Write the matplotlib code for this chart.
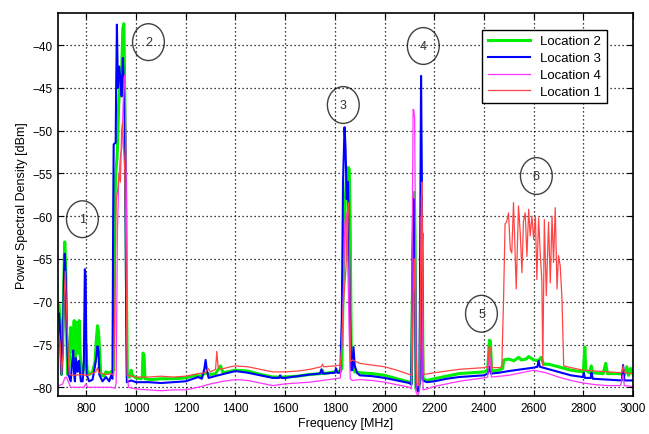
import numpy as np
import matplotlib
matplotlib.use('Agg')
import matplotlib.pyplot as plt
from matplotlib.patches import Ellipse

plt.rcParams['font.family'] = ['Liberation Sans', 'DejaVu Sans']

# Location 2 (green)
freq_loc2 = [690, 694, 700, 705, 709, 713, 717, 721, 725, 731, 737, 741, 744, 747, 751, 755, 758, 760,
             764, 768, 771, 775, 778, 785, 792, 798, 803, 811, 825, 835, 840, 845, 849, 852, 858, 870,
             879, 892, 905, 910, 914, 918, 924, 930, 936, 942, 947, 951, 954, 958, 962, 965, 975, 980,
             985, 1000, 1020, 1025, 1028, 1032, 1036, 1060, 1100, 1150, 1200, 1240, 1260, 1280, 1300,
             1320, 1340, 1350, 1400, 1450, 1500, 1550, 1600, 1650, 1700, 1745, 1750, 1755, 1800, 1820,
             1828, 1835, 1842, 1848, 1853, 1858, 1862, 1866, 1870, 1880, 1900, 1950, 2000, 2050, 2100,
             2108, 2112, 2116, 2120, 2123, 2127, 2135, 2142, 2147, 2151, 2155, 2170, 2200, 2250, 2300,
             2350, 2400, 2415, 2422, 2426, 2431, 2460, 2475, 2480, 2500, 2520, 2540, 2550, 2570, 2580,
             2600, 2620, 2630, 2640, 2660, 2700, 2750, 2800, 2806, 2810, 2825, 2832, 2838, 2880, 2890,
             2897, 2950, 2965, 2975, 2982, 2990, 3000]
psd_loc2 = [-70.4, -72.2, -78.5, -75, -68, -63.0, -66, -74, -78.5, -77.5, -73.0, -74.5, -73.8, -76, -72.2,
            -77.5, -75, -72.4, -73.8, -76, -72.2, -76, -77.5, -78.5, -77.0, -75.0, -78.0, -78.5, -78.2,
            -77.0, -74.5, -72.8, -73.5, -75, -78.5, -78.7, -78.2, -78.3, -78.1, -78.0, -60, -55, -53, -47,
            -44, -43, -38, -37.5, -44, -55, -70, -78.8, -78.8, -78.0, -78.6, -78.9, -79.0, -78.8, -76.0,
            -76.2, -79.0, -79.1, -79.0, -79.0, -78.9, -78.6, -78.7, -78.3, -78.5, -78.4, -77.5, -78.3,
            -78.0, -78.1, -78.5, -78.8, -78.8, -78.7, -78.5, -78.4, -78.0, -78.4, -78.2, -78.1, -77.8,
            -66, -58, -55, -54.3, -54.5, -62, -76, -77.0, -78.2, -78.3, -78.4, -78.6, -79.0, -79.4, -79.5,
            -70, -60, -57.2, -63, -80.2, -80.4, -79.5, -64, -62, -79.0, -79.2, -79.0, -78.7, -78.4, -78.3,
            -78.2, -78.0, -74.5, -74.6, -78.1, -78.0, -77.8, -76.8, -76.7, -76.9, -76.5, -76.8, -76.7,
            -76.4, -76.8, -76.9, -76.5, -77.3, -77.3, -77.6, -78.0, -78.2, -75.3, -78.0, -78.3, -77.5,
            -78.3, -78.4, -77.2, -78.4, -78.4, -78.6, -77.6, -78.6, -77.8, -78.5]

# Location 3 (blue)
freq_loc3 = [690, 694, 700, 706, 710, 713, 717, 720, 724, 728, 737, 743, 747, 751, 754, 758, 762, 764,
             768, 771, 775, 778, 785, 790, 794, 797, 801, 811, 825, 835, 840, 845, 849, 852, 865, 879,
             892, 900, 905, 908, 910, 918, 920, 923, 927, 932, 937, 942, 947, 951, 956, 960, 963, 980,
             1000, 1050, 1100, 1150, 1200, 1230, 1250, 1265, 1275, 1280, 1285, 1292, 1330, 1400, 1450,
             1500, 1550, 1575, 1580, 1585, 1600, 1650, 1700, 1740, 1746, 1752, 1800, 1805, 1810, 1822,
             1828, 1833, 1839, 1843, 1848, 1853, 1858, 1865, 1870, 1875, 1880, 1890, 1900, 1950, 2000,
             2050, 2100, 2108, 2112, 2117, 2122, 2126, 2135, 2141, 2144, 2147, 2150, 2154, 2170, 2200,
             2250, 2300, 2350, 2400, 2415, 2422, 2428, 2460, 2500, 2550, 2600, 2615, 2620, 2625, 2650,
             2700, 2750, 2798, 2802, 2806, 2830, 2833, 2838, 2900, 2955, 2960, 2965, 3000]
psd_loc3 = [-71.4, -73, -78.5, -74, -67, -64.4, -67, -71.6, -76, -78.5, -79.3, -77, -75.7, -78.5, -79.3,
            -76.6, -77.8, -78.2, -77.0, -76.9, -78.5, -79.3, -79.3, -77, -66.2, -67, -78.5, -79.3, -79.1,
            -77.5, -76.5, -75.2, -75.8, -78.5, -79.3, -78.8, -79.3, -78.6, -79.0, -60, -51.6, -51.4, -45,
            -37.6, -45, -42.5, -44, -46, -41.5, -45, -50, -70, -79.4, -79.2, -79.4, -79.4, -79.5, -79.4,
            -79.3, -79.0, -78.8, -79.0, -77.8, -76.8, -78.0, -78.9, -78.6, -78.1, -78.3, -78.6, -78.9,
            -78.9, -78.6, -78.9, -78.9, -78.7, -78.5, -78.4, -77.9, -78.4, -78.3, -77.8, -78.3, -78.3,
            -72, -56, -49.6, -52, -58, -56, -66, -78.0, -78.0, -75.3, -77.5, -78.3, -78.6, -78.7, -78.9,
            -79.2, -79.5, -79.7, -66, -58, -62, -79.8, -80.5, -79.5, -60, -43.6, -55, -79.2, -79.4, -79.3,
            -79.0, -78.8, -78.7, -78.6, -78.4, -77.6, -78.4, -78.3, -78.1, -77.9, -77.7, -77.6, -76.9,
            -77.6, -77.8, -78.2, -78.6, -78.8, -78.3, -78.9, -78.9, -78.3, -79.0, -79.1, -79.2, -77.4,
            -79.2, -79.2]

# Location 4 (magenta)
freq_loc4 = [690, 705, 713, 720, 728, 737, 790, 798, 805, 900, 915, 920, 925, 930, 937, 943, 948, 952,
             955, 958, 962, 966, 970, 1000, 1050, 1100, 1150, 1200, 1250, 1300, 1350, 1400, 1450, 1500,
             1550, 1600, 1650, 1700, 1750, 1800, 1822, 1828, 1835, 1840, 1845, 1850, 1855, 1862, 1870,
             1900, 1950, 2000, 2050, 2100, 2108, 2112, 2115, 2118, 2121, 2124, 2127, 2135, 2141, 2145,
             2148, 2151, 2155, 2170, 2200, 2250, 2300, 2350, 2400, 2415, 2420, 2426, 2430, 2500, 2550,
             2600, 2650, 2700, 2750, 2800, 2850, 2900, 2950, 2960, 2965, 3000]
psd_loc4 = [-79.8, -79.6, -78.9, -78.8, -79.4, -80.0, -80.0, -79.6, -80.0, -80.0, -80.1, -79.5, -62, -56,
            -53, -52, -47, -43.8, -43.5, -48, -62, -79, -80.0, -80.2, -80.3, -80.4, -80.3, -80.3, -80.0,
            -79.6, -79.3, -79.1, -79.2, -79.5, -79.8, -79.6, -79.5, -79.4, -79.2, -79.0, -78.9, -75, -68,
            -61, -59.5, -62, -70, -79.0, -79.2, -79.1, -79.2, -79.4, -79.7, -80.0, -80.2, -60, -47.5,
            -47.6, -48.5, -60, -80.6, -81.0, -80.3, -66, -60, -64, -80.3, -80.2, -79.9, -79.6, -79.3,
            -79.1, -78.9, -78.8, -76.5, -76.6, -78.8, -78.6, -78.3, -78.0, -78.3, -78.8, -79.2, -79.5,
            -79.7, -79.8, -79.8, -78.5, -79.8, -79.9]

# Location 1 (red)
freq_loc1 = [690, 695, 700, 706, 710, 715, 719, 724, 728, 731, 750, 780, 800, 820, 838, 845, 850, 880,
             900, 910, 915, 920, 926, 932, 937, 942, 946, 950, 955, 960, 964, 1000, 1050, 1100, 1150,
             1200, 1250, 1280, 1290, 1300, 1320, 1325, 1330, 1340, 1380, 1400, 1450, 1500, 1550, 1600,
             1650, 1700, 1745, 1750, 1755, 1800, 1822, 1828, 1835, 1845, 1850, 1855, 1858, 1863, 1870,
             1900, 1950, 2000, 2050, 2100, 2110, 2115, 2120, 2125, 2130, 2138, 2143, 2148, 2151, 2154,
             2158, 2200, 2250, 2300, 2350, 2400, 2415, 2421, 2427, 2432, 2465, 2472, 2479, 2485, 2492,
             2499, 2506, 2512, 2519, 2530, 2539, 2546, 2553, 2559, 2566, 2573, 2580, 2586, 2593, 2600,
             2607, 2613, 2620, 2627, 2633, 2637, 2643, 2651, 2660, 2667, 2674, 2680, 2687, 2694, 2700,
             2707, 2714, 2721, 2750, 2800, 2850, 2900, 2955, 2960, 2965, 3000]
psd_loc1 = [-73.8, -75, -78.5, -76, -70, -66.4, -70, -73.8, -77, -78.5, -78.6, -78.5, -78.6, -78.4, -78.2,
            -77.7, -78.3, -78.5, -78.4, -78.6, -70, -58, -57, -55, -56, -50, -49, -52, -55, -66, -78.6,
            -78.8, -78.8, -78.7, -78.8, -78.7, -78.4, -78.3, -77.8, -78.2, -77.9, -75.8, -77.6, -77.9,
            -77.6, -77.5, -77.6, -77.9, -78.2, -78.2, -78.1, -77.9, -77.6, -77.3, -77.6, -77.5, -77.4,
            -75, -70, -66, -60, -58.4, -62, -77, -76.8, -77.2, -77.4, -77.6, -78.0, -78.5, -78.6, -70,
            -65, -75, -79.5, -79.8, -75, -58, -56, -70, -78.5, -78.3, -78.1, -77.9, -77.8, -77.7, -77.6,
            -75.2, -75.4, -77.7, -77.7, -77.5, -69.7, -60.9, -60.6, -59.6, -63.9, -64.3, -58.4, -68.5,
            -58.8, -61.9, -66.6, -60.6, -59.6, -64.7, -59.2, -62.3, -60.0, -62.7, -60.0, -67.4, -60.2,
            -64.6, -67.4, -77.5, -60.4, -69.3, -60.7, -67.8, -60.0, -65.4, -59.0, -68.5, -64.6, -65.8,
            -69.7, -77.5, -77.7, -78.0, -78.1, -78.2, -78.3, -77.5, -78.3, -78.4]

# circled markers
mark_labels = ['1', '2', '3', '4', '5', '6']
mark_freq = [784, 1050, 1834, 2156, 2390, 2611]
mark_psd = [-60.35, -39.65, -47.0, -40.1, -71.4, -55.3]

fig = plt.figure(figsize=(6.49, 4.35), dpi=100)
ax = fig.add_axes([0.0894, 0.0867, 0.886, 0.881])

ax.plot(freq_loc2, psd_loc2, color='#00ee00', lw=2.2, label='Location 2')
ax.plot(freq_loc3, psd_loc3, color='#0000ff', lw=1.5, label='Location 3')
ax.plot(freq_loc4, psd_loc4, color='#ff33ff', lw=0.9, label='Location 4')
ax.plot(freq_loc1, psd_loc1, color='#ff4444', lw=0.9, label='Location 1')

for lab, fx, fy in zip(mark_labels, mark_freq, mark_psd):
    ax.add_patch(Ellipse((fx, fy), 128, 4.3, fill=False, edgecolor='#404040', lw=1.0))
    ax.text(fx, fy, lab, ha='center', va='center', fontsize=9, color='#303030')

ax.set_xlim(686, 3000)
ax.set_ylim(-81.05, -36.25)
ax.set_xticks(np.arange(800, 3001, 200))
ax.set_yticks(np.arange(-80, -39, 5))
ax.grid(True, color='black', linestyle=(0, (1, 2.2)), lw=0.9)
ax.tick_params(direction='in', top=True, right=True, length=4, labelsize=8.5, pad=4)
for sp in ax.spines.values():
    sp.set_linewidth(1.2)

ax.set_xlabel('Frequency [MHz]', fontsize=9, labelpad=2)
ax.set_ylabel('Power Spectral Density [dBm]', fontsize=9, labelpad=3)

leg = ax.legend(loc='upper right', bbox_to_anchor=(0.954, 0.956), borderaxespad=0,
                fancybox=False, edgecolor='black', framealpha=1, fontsize=9.5,
                handlelength=3.2, labelspacing=0.35)
leg.get_frame().set_linewidth(1.0)

fig.savefig('out.png', dpi=100)
